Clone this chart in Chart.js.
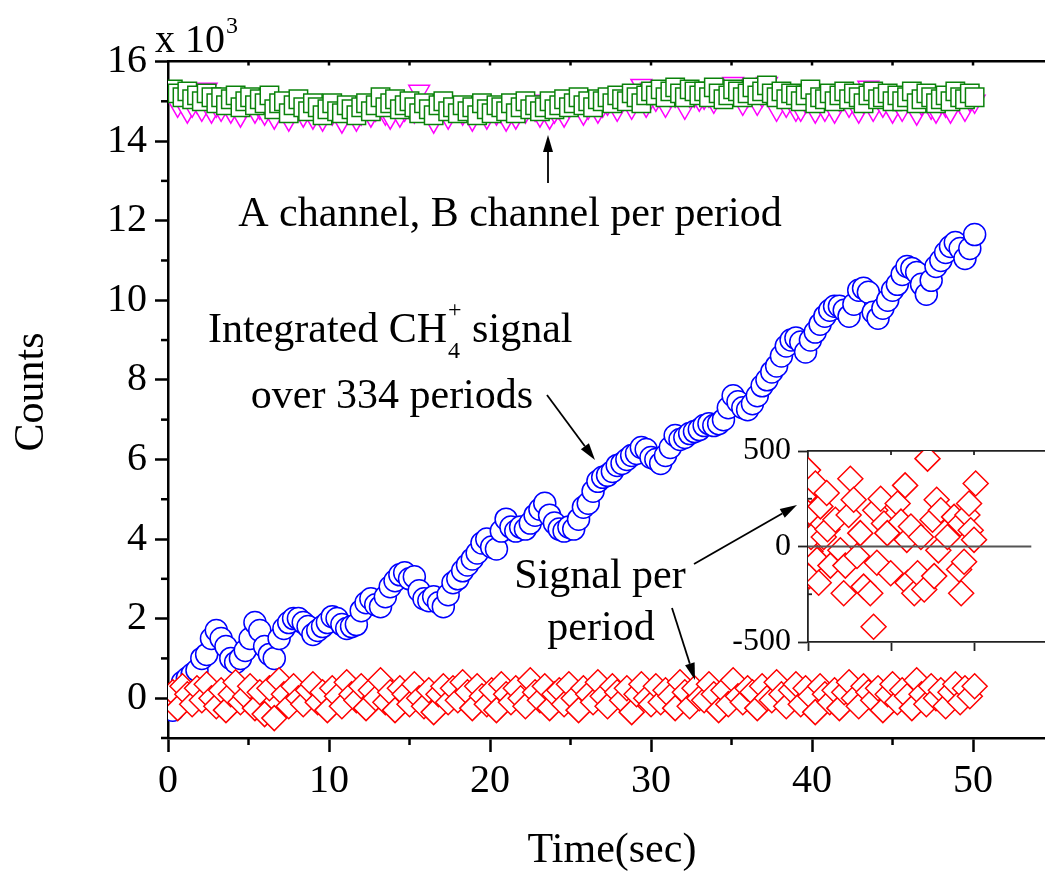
<!DOCTYPE html>
<html>
<head>
<meta charset="utf-8">
<title>Integrated CH4+ signal</title>
<script src="https://cdn.jsdelivr.net/npm/chart.js@4.4.1/dist/chart.umd.min.js"></script>
<style>
  html, body { margin: 0; padding: 0; background: #fff; }
  #wrap { position: relative; width: 1045px; height: 872px; overflow: hidden; }
  #main { position: absolute; left: 0; top: 0; }
  #inset { position: absolute; left: 700px; top: 420px; }
</style>
</head>
<body>
<div id="wrap">
  <canvas id="main" width="1045" height="872"></canvas>
  <canvas id="inset" width="345" height="260"></canvas>
</div>
<script>
// ---- measured data (counts) ----
// one sample every 0.3 s, first sample at 0.3 s
const SAMPLE_STEP = 0.3;

const integratedSignal = [
  -300, -100, 400, 500, 600, 700, 1000, 1100, 1500, 1700,
  1500, 1300, 1000, 900, 1000, 1200, 1500, 1900, 1700, 1300,
  1100, 1000, 1500, 1750, 1900, 2000, 2000, 1900, 1800, 1600,
  1700, 1800, 1900, 2050, 2000, 1850, 1750, 1800, 1850, 2200,
  2400, 2500, 2350, 2300, 2550, 2800, 2950, 3100, 3150, 3000,
  3050, 2700, 2500, 2450, 2550, 2400, 2300, 2600, 2900, 3000,
  3200, 3350, 3500, 3650, 3900, 4000, 3800, 3750, 4200, 4500,
  4300, 4200, 4300, 4250, 4400, 4600, 4750, 4900, 4600, 4400,
  4250, 4200, 4300, 4250, 4500, 4800, 4900, 5200, 5450, 5550,
  5600, 5700, 5850, 5900, 6000, 6100, 6150, 6300, 6250, 6050,
  6000, 5900, 6100, 6300, 6600, 6500, 6550, 6650, 6700, 6750,
  6850, 6900, 6850, 6900, 7000, 7300, 7600, 7450, 7300, 7250,
  7400, 7600, 7850, 8000, 8200, 8350, 8600, 8850, 9000, 9050,
  8950, 8700, 9000, 9200, 9400, 9600, 9750, 9850, 9850, 9750,
  9600, 9900, 10250, 10300, 10200, 9700, 9550, 9800, 10000, 10250,
  10400, 10650, 10850, 10800, 10700, 10400, 10150, 10500, 10850, 11000,
  11200, 11350, 11450, 11300, 11050, 11300, 11650
];

const signalPerPeriod = [
  150, -250, 300, 100, -150, 250, -50, 350, 0, -200,
  200, -300, 100, 400, -100, 50, 300, -250, 150, -400,
  250, -500, 450, 100, -200, 300, 0, -150, 200, 350,
  -100, 150, -300, 250, 50, -200, 400, 100, -50, 300,
  -250, 200, 0, 450, -100, 150, -300, 250, 100, -150,
  350, 0, -200, 200, -350, 100, 300, -100, 250, -50,
  400, 150, -250, 300, 50, -150, 200, -300, 350, 100,
  -100, 250, 0, -200, 450, 150, -50, 300, -250, 100,
  200, -150, 350, 0, -300, 250, 100, -100, 400, 50,
  -200, 300, 150, -50, 250, -350, 100, 350, 0, -150,
  300, -100, 200, 50, -250, 400, 150, -200, 250, 0,
  -50, 350, 100, -300, 200, -150, 450, 50, -100, 250,
  150, -250, 300, 0, -50, 400, 100, -200, 200, 350,
  -150, 250, 50, -350, 300, 100, -100, 200, -250, 150,
  400, 0, -200, 300, 150, -50, 250, -300, 100, 350,
  -100, 200, 50, -250, 450, 100, -150, 300, 0, 200,
  -200, 150, 350, -100, 250, 50, 300
];

const channelA = [
  15300, 15200, 15100, 15250, 15050, 15150, 15000, 15200, 15100, 14950,
  15100, 14900, 15050, 15150, 14850, 15000, 15100, 14900, 15050, 14950,
  15150, 14800, 14950, 15000, 14700, 14900, 15050, 14850, 14750, 14950,
  14850, 14650, 14800, 14950, 14750, 14700, 14900, 14800, 14650, 14850,
  14950, 14750, 14900, 15100, 14850, 14950, 15050, 14800, 14900, 15000,
  14850, 14700, 14950, 14800, 14650, 14900, 15000, 14750, 14850, 14700,
  14900, 14750, 14850, 14650, 14950, 14800, 14700, 14900, 14850, 14750,
  14950, 14700, 14850, 15000, 14800, 14900, 14750, 14850, 15000, 14800,
  14900, 15050, 14850, 14950, 15100, 14900, 15000, 14850, 15050, 15000,
  15100, 14950, 15150, 15050, 15000, 15200, 15100, 14950, 15150, 15250,
  15150, 15300, 15100, 15250, 15350, 15200, 15100, 15300, 15250, 15150,
  15250, 15100, 15350, 15200, 15050, 15150, 15300, 15250, 15100, 15200,
  15350, 15150, 15250, 15400, 15200, 15100, 15250, 15050, 15200, 15150,
  15000, 15150, 15300, 14950, 15100, 15050, 15200, 15000, 15150, 15250,
  15050, 15200, 15100, 14950, 15150, 15250, 15050, 15100, 15200, 15000,
  15150, 15000, 15100, 15250, 14950, 15050, 15200, 15100, 14950, 15050,
  15150, 15000, 15250, 15100, 15050, 15200, 15100
];

const channelB = [
  15150, 14900, 15050, 14750, 14900, 15000, 14800, 15300, 14750, 14900,
  14800, 15000, 14750, 15000, 14650, 14900, 14950, 14750, 14850, 14700,
  14900, 14600, 15050, 14850, 14550, 14800, 15000, 14650, 14850, 14600,
  14750, 14550, 14850, 14700, 14950, 14500, 14750, 14850, 14550, 14700,
  14850, 14650, 14800, 15000, 14700, 14600, 14900, 14650, 14800, 14850,
  14750, 15250, 14950, 14850, 14500, 14750, 14900, 14600, 14950, 14800,
  14700, 14850, 14550, 14800, 14750, 14600, 14950, 14700, 14750, 14550,
  14800, 14600, 14900, 14750, 15000, 14800, 14650, 14850, 14600, 14750,
  14850, 14650, 14900, 15000, 14950, 14700, 14850, 14950, 14750, 14900,
  14950, 15050, 14800, 15100, 15100, 14850, 15100, 15400, 14900, 15300,
  15050, 15200, 14900, 15150, 15150, 15250, 14850, 15150, 15150, 15050,
  15100, 15150, 15000, 15400, 15350, 15200, 15450, 15300, 14950, 15150,
  15250, 14950, 15150, 15450, 15100, 14800, 15150, 14900, 15100, 14800,
  14800, 15000, 15050, 14750, 15000, 14800, 15100, 14750, 15050, 15100,
  14900, 15100, 14750, 15000, 15350, 14800, 15100, 14900, 15000, 14750,
  15000, 14800, 15050, 15100, 14700, 14950, 15050, 14850, 14750, 15000,
  14900, 14750, 15100, 15000, 14800, 15050, 15000
];

// zoomed view of the per-period signal
const insetTime = [
  0.0, 0.15, 0.2, 0.28, 0.3, 0.36, 0.89, 1.09, 1.29, 1.49,
  1.9, 2.25, 2.35, 2.7, 3.3, 3.9, 4.3, 4.5, 4.9, 5.1,
  5.5, 5.9, 6.3, 6.7, 7.5, 7.9, 8.1, 8.3, 8.75, 9.15,
  9.55, 9.96, 10.8, 11.2, 11.7, 11.9, 12.0, 12.4, 12.8, 13.2,
  13.6, 14.0, 14.4, 15.0, 15.2, 15.5, 15.7, 16.0, 16.8, 17.6,
  18.2, 18.35, 18.45, 18.8, 19.2, 19.4, 19.6, 20.0, 20.2
];
const insetSignal = [
  400, -155, 180, 295, -25, 50, 330, -70, -190, 210,
  50, 280, 90, -100, 140, -20, -245, -100, 165, 355,
  245, -50, 70, -210, -245, -420, 190, -85, 250, 120,
  70, -140, 225, 130, 320, 35, -190, 105, -245, -140,
  50, -225, 460, 140, -155, 245, -20, 190, 50, 155,
  -120, 120, -245, -80, 165, 225, 85, 35, 330
];
const insetZeroLineX = [0, 26.9];

// axis ticks
const mainYMajor = [0, 2000, 4000, 6000, 8000, 10000, 12000, 14000, 16000];
const mainYMinor = [-1000, 1000, 3000, 5000, 7000, 9000, 11000, 13000, 15000];
const mainXMinor = [5, 15, 25, 35, 45];
const mainXTop = [5, 10, 15, 20, 25, 30, 35, 40, 45, 50];
const insetYMinor = [-250, 250];
const insetXTop = [10, 20];

// ---- helpers ----
const SERIF = "'Liberation Serif', 'Times New Roman', Times, serif";
const sampleTime = integratedSignal.map((_, i) => Math.round((i + 1) * SAMPLE_STEP * 10) / 10);
const toPoints = (xs, ys) => ys.map((y, i) => ({ x: xs[i], y }));

// short extra tick marks along an axis edge
const extraTicks = {
  id: 'extraTicks',
  afterDraw(chart, args, opts) {
    const { ctx, chartArea } = chart;
    ctx.save();
    ctx.strokeStyle = opts.color || '#000';
    ctx.lineWidth = opts.width || 2;
    ctx.lineCap = 'butt';
    for (const set of opts.sets || []) {
      const scale = chart.scales[set.scale];
      for (const v of set.values) {
        const p = scale.getPixelForValue(v);
        ctx.beginPath();
        if (set.edge === 'bottom') { ctx.moveTo(p, chartArea.bottom); ctx.lineTo(p, chartArea.bottom + set.len); }
        else if (set.edge === 'top') { ctx.moveTo(p, chartArea.top); ctx.lineTo(p, chartArea.top + set.len); }
        else { ctx.moveTo(chartArea.left, p); ctx.lineTo(chartArea.left + set.len, p); }
        ctx.stroke();
      }
    }
    ctx.restore();
  }
};

// labels, arrows and axis titles of the main panel
function arrow(ctx, x0, y0, x1, y1) {
  const ang = Math.atan2(y1 - y0, x1 - x0);
  const head = 17, half = 5;
  const bx = x1 - head * Math.cos(ang), by = y1 - head * Math.sin(ang);
  ctx.beginPath();
  ctx.moveTo(x0, y0);
  ctx.lineTo(bx, by);
  ctx.stroke();
  ctx.beginPath();
  ctx.moveTo(x1, y1);
  ctx.lineTo(bx + half * Math.sin(ang), by - half * Math.cos(ang));
  ctx.lineTo(bx - half * Math.sin(ang), by + half * Math.cos(ang));
  ctx.closePath();
  ctx.fill();
}

const annotations = {
  id: 'annotations',
  afterDraw(chart) {
    const ctx = chart.ctx;
    ctx.save();
    ctx.fillStyle = '#000';
    ctx.strokeStyle = '#000';
    ctx.lineWidth = 1.8;
    ctx.textBaseline = 'alphabetic';

    // axis titles
    ctx.font = `42px ${SERIF}`;
    ctx.textAlign = 'center';
    ctx.fillText('Time(sec)', 612, 862);
    ctx.save();
    ctx.translate(43, 392);
    ctx.rotate(-Math.PI / 2);
    ctx.fillText('Counts', 0, 0);
    ctx.restore();

    // axis multiplier
    ctx.textAlign = 'left';
    ctx.font = `40px ${SERIF}`;
    ctx.fillText('x 10', 155, 52);
    const mulW = ctx.measureText('x 10').width;
    ctx.font = `24px ${SERIF}`;
    ctx.fillText('3', 155 + mulW + 1, 33);

    // channel label
    ctx.font = `42px ${SERIF}`;
    ctx.textAlign = 'center';
    ctx.fillText('A channel, B channel per period', 510, 226);
    arrow(ctx, 548, 183, 548, 135);

    // integrated signal label
    ctx.textAlign = 'left';
    const x0 = 208, base = 342;
    ctx.fillText('Integrated CH', x0, base);
    let x = x0 + ctx.measureText('Integrated CH').width + 1;
    ctx.font = `24px ${SERIF}`;
    ctx.fillText('+', x, base - 25);
    ctx.fillText('4', x, base + 16);
    x += ctx.measureText('+').width;
    ctx.font = `42px ${SERIF}`;
    ctx.fillText(' signal', x, base);
    ctx.textAlign = 'center';
    ctx.fillText('over 334 periods', 392, 408);
    arrow(ctx, 547, 395, 595, 460);

    // per-period label
    ctx.fillText('Signal per', 600, 588);
    ctx.fillText('period', 601, 640);
    arrow(ctx, 694, 564, 797, 505);
    arrow(ctx, 672, 608, 695, 680);

    ctx.restore();
  }
};

const commonPoint = { backgroundColor: '#ffffff', borderWidth: 1.5, showLine: false, clip: 0 };

new Chart(document.getElementById('main'), {
  type: 'scatter',
  data: {
    datasets: [
      Object.assign({
        label: 'Signal per period',
        data: toPoints(sampleTime, signalPerPeriod),
        borderColor: '#ff0000', pointStyle: 'rectRot', pointRadius: 12.5
      }, commonPoint),
      Object.assign({
        label: 'Integrated CH4+ signal',
        data: toPoints(sampleTime, integratedSignal),
        borderColor: '#0000ff', pointStyle: 'circle', pointRadius: 11
      }, commonPoint),
      Object.assign({
        label: 'A channel',
        data: toPoints(sampleTime, channelA),
        borderColor: '#0a820a', pointStyle: 'rect', pointRadius: 13
      }, commonPoint),
      Object.assign({
        label: 'B channel',
        data: toPoints(sampleTime, channelB),
        borderColor: '#ff00ff', pointStyle: 'triangle', pointRotation: 180, pointRadius: 12
      }, commonPoint)
    ]
  },
  options: {
    responsive: false,
    animation: false,
    devicePixelRatio: 1,
    events: [],
    layout: { padding: 0, autoPadding: false },
    plugins: {
      legend: { display: false },
      tooltip: { enabled: false },
      extraTicks: {
        color: '#000', width: 2.5,
        sets: [
          { scale: 'y', values: mainYMinor, edge: 'left', len: -7 },
          { scale: 'x', values: mainXMinor, edge: 'bottom', len: 7 },
          { scale: 'x', values: mainXTop, edge: 'top', len: 4 }
        ]
      }
    },
    scales: {
      x: {
        type: 'linear', position: 'bottom', min: 0, max: 54.47,
        afterFit: s => { s.height = 134; s.paddingRight = 0; },
        ticks: {
          stepSize: 10, includeBounds: false, autoSkip: false, maxRotation: 0,
          padding: 5, color: '#000', font: { family: SERIF, size: 40 }
        },
        grid: { drawOnChartArea: false, drawTicks: true, tickLength: 14, tickWidth: 2.5, tickColor: '#000' },
        border: { display: true, color: '#000', width: 2.5 }
      },
      xTop: {
        type: 'linear', position: 'top', min: 0, max: 54.47,
        afterFit: s => { s.height = 61.5; },
        ticks: { display: false },
        grid: { display: false },
        border: { display: true, color: '#000', width: 2.5 }
      },
      y: {
        type: 'linear', position: 'left', min: -1000, max: 16000,
        afterFit: s => { s.width = 168; },
        afterBuildTicks: s => { s.ticks = mainYMajor.map(v => ({ value: v })); },
        ticks: {
          stepSize: 2000, includeBounds: false, padding: 8, color: '#000',
          font: { family: SERIF, size: 40 },
          callback: v => String(v / 1000)
        },
        grid: { drawOnChartArea: false, drawTicks: true, tickLength: 13, tickWidth: 2.5, tickColor: '#000' },
        border: { display: true, color: '#000', width: 2.5 }
      }
    }
  },
  plugins: [extraTicks, annotations]
});

// inset: per-period signal on an expanded scale
new Chart(document.getElementById('inset'), {
  type: 'scatter',
  data: {
    datasets: [
      {
        label: 'zero',
        type: 'line',
        data: toPoints(insetZeroLineX, [0, 0]),
        borderColor: '#555555', borderWidth: 2, pointRadius: 0, fill: false, clip: 0
      },
      Object.assign({
        label: 'Signal per period',
        data: toPoints(insetTime, insetSignal),
        borderColor: '#ff0000', pointStyle: 'rectRot', pointRadius: 12.5
      }, commonPoint)
    ]
  },
  options: {
    responsive: false,
    animation: false,
    devicePixelRatio: 1,
    events: [],
    layout: { padding: 0, autoPadding: false },
    plugins: {
      legend: { display: false },
      tooltip: { enabled: false },
      extraTicks: {
        color: '#222', width: 1.8,
        sets: [
          { scale: 'y', values: insetYMinor, edge: 'left', len: 4 },
          { scale: 'x', values: insetXTop, edge: 'top', len: 4 }
        ]
      }
    },
    scales: {
      x: {
        type: 'linear', position: 'bottom', min: 0, max: 28.55,
        afterFit: s => { s.height = 38; s.paddingRight = 0; },
        ticks: { display: false, stepSize: 10, includeBounds: false },
        grid: { drawOnChartArea: false, drawTicks: true, tickLength: 9, tickWidth: 1.8, tickColor: '#222' },
        border: { display: true, color: '#222', width: 1.8 }
      },
      xTop: {
        type: 'linear', position: 'top', min: 0, max: 28.55,
        afterFit: s => { s.height = 31; },
        ticks: { display: false },
        grid: { display: false },
        border: { display: true, color: '#222', width: 1.8 }
      },
      y: {
        type: 'linear', position: 'left', min: -500, max: 500,
        afterFit: s => { s.width = 108; },
        ticks: {
          stepSize: 500, padding: 7, color: '#000',
          font: { family: SERIF, size: 32 },
          callback: v => String(v)
        },
        grid: { drawOnChartArea: false, drawTicks: true, tickLength: 10, tickWidth: 1.8, tickColor: '#222' },
        border: { display: true, color: '#222', width: 1.8 }
      }
    }
  },
  plugins: [extraTicks]
});
</script>
</body>
</html>
